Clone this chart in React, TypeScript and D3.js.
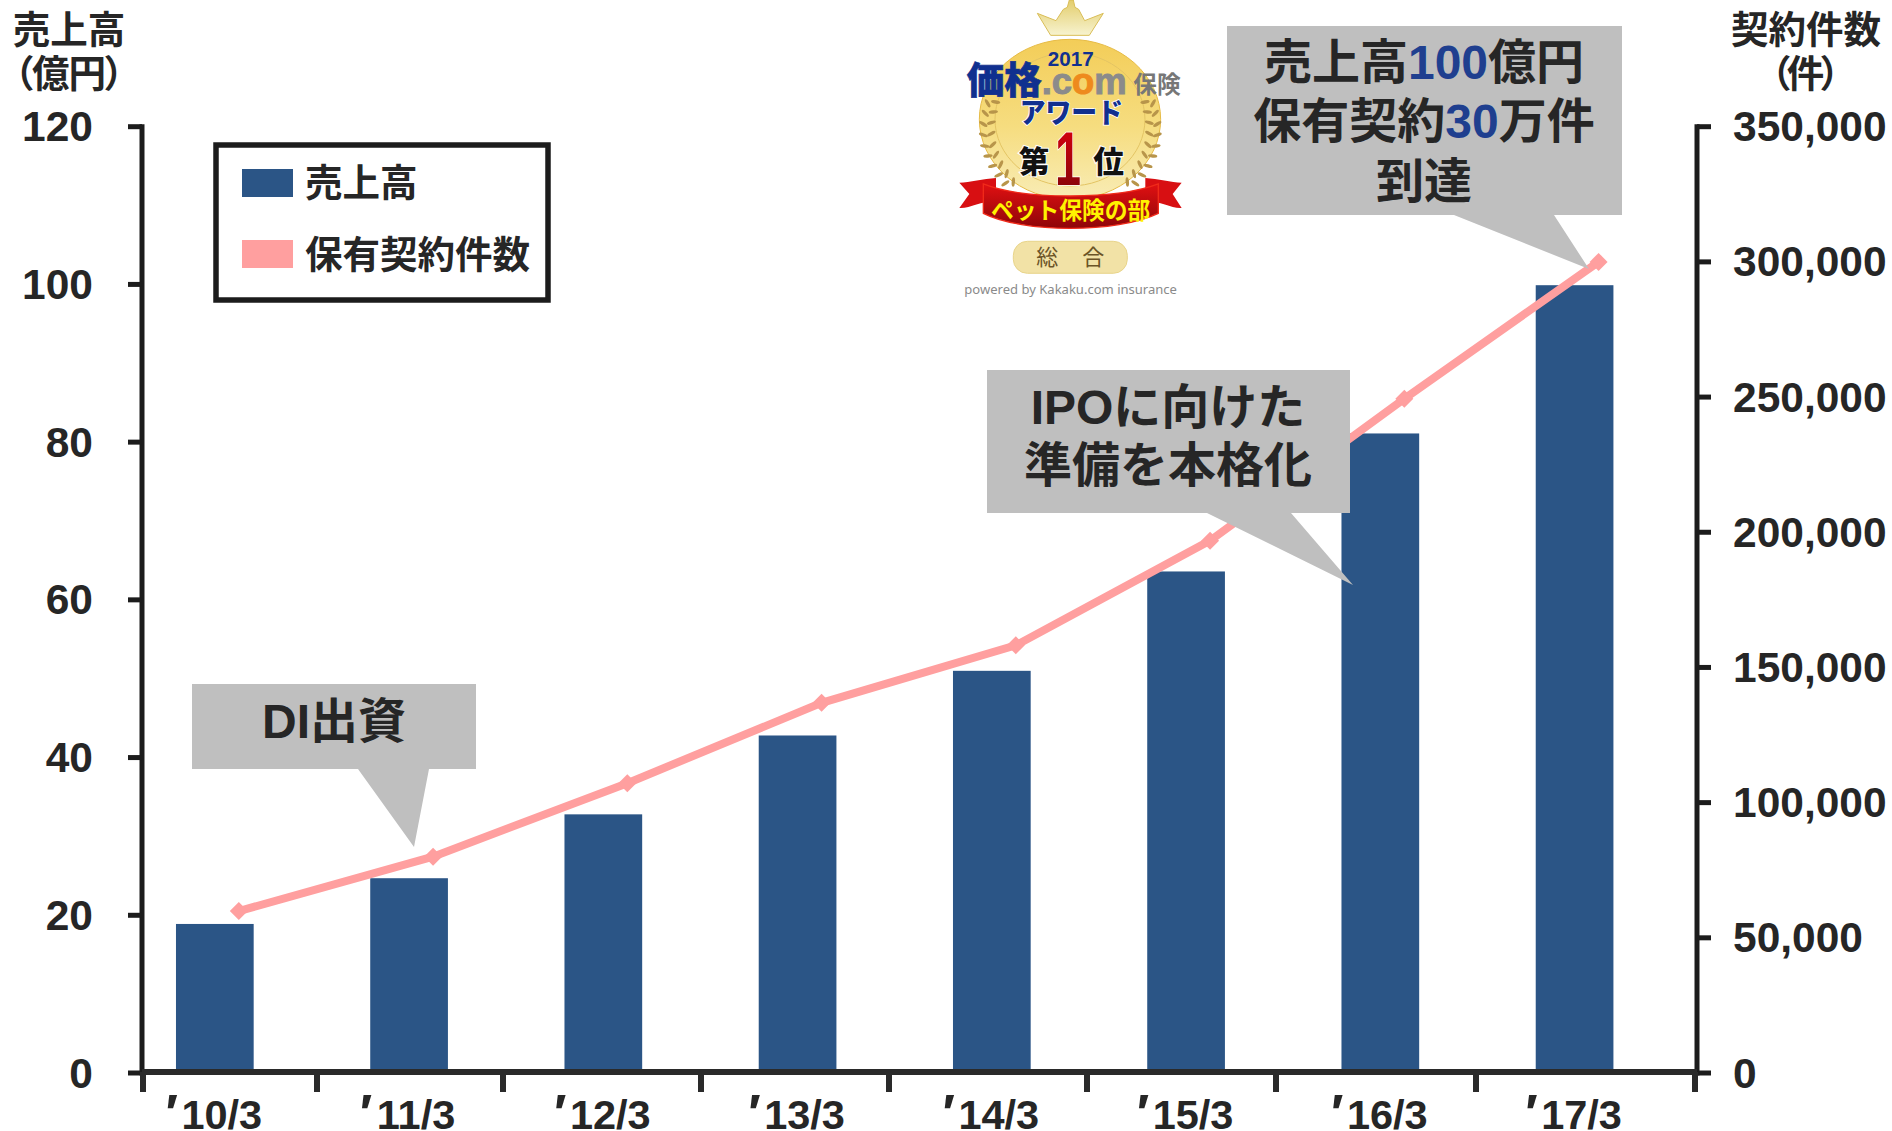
import React from "react";
import * as d3 from "d3";

const categories = ["10/3", "11/3", "12/3", "13/3", "14/3", "15/3", "16/3", "17/3"];
const revenue = [18.9, 24.7, 32.8, 42.8, 51.0, 63.6, 81.1, 99.9];
const contracts = [59900, 80000, 107200, 136900, 158200, 196900, 249400, 300000];
const leftTicks = [0, 20, 40, 60, 80, 100, 120];
const rightTicks = [0, 50000, 100000, 150000, 200000, 250000, 300000, 350000];

const FONT = "'Liberation Sans','Noto Sans CJK JP',sans-serif";
const INK = "#262626";
const AXIS = "#1c1c1c";
const BAR = "#2b5586";
const LINE = "#ff9f9f";
const GREY = "#bfbfbf";
const BLUE = "#1f3f8f";

const W = 1892, H = 1131;
const top = 126.7, base = 1073;
const axisL = 142, axisR = 1697;
const y1 = d3.scaleLinear().domain([0, 120]).range([base, top]);
const y2 = d3.scaleLinear().domain([0, 350000]).range([base, top]);
const xBand = d3.scaleBand<string>().domain(categories).range([117.7, 1671.7]).paddingInner(0.6).paddingOuter(0.3);
const lineOffset = 24;
const xMid = (c: string) => (xBand(c) as number) + xBand.bandwidth() / 2;
// the source chart's category separators are unevenly spaced
const separatorPx = [143, 317, 503, 701, 889, 1087, 1276, 1476, 1695];

const line = d3.line<number>()
  .x((_, i) => xMid(categories[i]) + lineOffset)
  .y((d) => y2(d));

function Callout({ x0, y0, x1, y1: yb, tip }: { x0: number; y0: number; x1: number; y1: number; tip: number[][] }) {
  const pts = [[x0, y0], [x1, y0], [x1, yb], ...tip, [x0, yb]].map((p) => p.join(",")).join(" ");
  return <polygon points={pts} fill={GREY} />;
}

function Laurel({ side }: { side: number }) {
  const leaves = [
    [185, 310, 40], [178, 340, 25], [172, 372, 12], [172, 405, 0], [176, 438, -12],
    [186, 468, -25], [200, 498, -35], [218, 525, -45], [238, 550, -55],
  ];
  return (
    <g transform={side < 0 ? "translate(842,0) scale(-1,1)" : undefined}>
      {leaves.map(([x, y, r], i) => (
        <g key={i}>
          <ellipse cx={x - 12} cy={y} rx={14} ry={5} fill="#b8954a" transform={`rotate(${r + 20} ${x - 12} ${y})`} />
          <ellipse cx={x + 12} cy={y - 4} rx={14} ry={5} fill="#b8954a" transform={`rotate(${r - 30} ${x + 12} ${y - 4})`} />
        </g>
      ))}
    </g>
  );
}

function Award() {
  return (
    <g transform="translate(930,0) scale(0.3333)" fontFamily={FONT}>
      <defs>
        <linearGradient id="gold" x1="0" y1="0" x2="0" y2="1">
          <stop offset="0" stopColor="#f3cd58" />
          <stop offset="0.55" stopColor="#f6dd80" />
          <stop offset="1" stopColor="#f8ecb5" />
        </linearGradient>
        <linearGradient id="crown" x1="0" y1="0" x2="0" y2="1">
          <stop offset="0" stopColor="#e3cd6c" />
          <stop offset="1" stopColor="#f7f3cf" />
        </linearGradient>
        <linearGradient id="ribbon" x1="0" y1="0" x2="0" y2="1">
          <stop offset="0" stopColor="#e01012" />
          <stop offset="1" stopColor="#8e0508" />
        </linearGradient>
        <linearGradient id="one" x1="0" y1="0" x2="0" y2="1">
          <stop offset="0" stopColor="#e3000f" />
          <stop offset="1" stopColor="#7a0408" />
        </linearGradient>
      </defs>
      <ellipse cx={420} cy={358} rx={272} ry={240} fill="url(#gold)" stroke="#e6bb45" strokeWidth={3} />
      <ellipse cx={420} cy={358} rx={225} ry={200} fill="none" stroke="#e3c463" strokeWidth={3} />
      <path d="M322,40 L378,62 L400,28 L412,22 L418,0 L430,0 L435,22 L446,28 L464,62 L520,40 L478,106 L362,106 Z"
        fill="url(#crown)" stroke="#d9bd56" strokeWidth={3} />
      <Laurel side={1} />
      <Laurel side={-1} />
      <text x={422} y={198} textAnchor="middle" fontSize={62} fontWeight={700} fill="#12308f">2017</text>
      <text x={110} y={282} fontSize={112} fontWeight={900} fill="#10308f" stroke="#10308f" strokeWidth={2} textLength={225} lengthAdjust="spacingAndGlyphs">価格</text>
      <text x={335} y={282} fontSize={112} fontWeight={700} fill="#8b8b8b" stroke="#8b8b8b" strokeWidth={3} textLength={255} lengthAdjust="spacingAndGlyphs">.c<tspan fill="#ee8a1d" stroke="#ee8a1d">o</tspan>m</text>
      <text x={610} y={280} fontSize={70} fontWeight={700} fill="#777" textLength={142} lengthAdjust="spacingAndGlyphs">保険</text>
      <text x={424} y={368} textAnchor="middle" fontSize={84} fontWeight={900} fill="#12308f" stroke="#fff" strokeWidth={5} paintOrder="stroke" textLength={310} lengthAdjust="spacingAndGlyphs">アワード</text>
      <text x={312} y={520} textAnchor="middle" fontSize={92} fontWeight={900} fill="#111" stroke="#fff" strokeWidth={6} paintOrder="stroke">第</text>
      <text x={536} y={520} textAnchor="middle" fontSize={92} fontWeight={900} fill="#111" stroke="#fff" strokeWidth={6} paintOrder="stroke">位</text>
      <text x={375} y={555} fontSize={228} fontWeight={700} fill="url(#one)" stroke="#fff" strokeWidth={5} paintOrder="stroke" textLength={78} lengthAdjust="spacingAndGlyphs">1</text>
      <path d="M198,534 C160,536 120,548 88,548 L118,582 L88,624 C120,626 150,604 198,604 Z" fill="#d80f12" />
      <path d="M646,534 C684,536 724,548 755,548 L728,582 L755,624 C724,626 694,604 646,604 Z" fill="#d80f12" />
      <path d="M160,552 C280,600 560,600 685,552 L685,640 C560,700 280,700 160,640 Z" fill="url(#ribbon)" stroke="#f02a1a" strokeWidth={4} />
      <text x={422} y={656} textAnchor="middle" fontSize={70} fontWeight={700} fill="#fff200" textLength={478} lengthAdjust="spacingAndGlyphs">ペット保険の部</text>
      <rect x={250} y={724} width={342} height={96} rx={42} fill="#f2e2a6" stroke="#e8d48a" strokeWidth={3} />
      <text x={352} y={796} textAnchor="middle" fontSize={66} fontWeight={400} fill="#6b5426">総</text>
      <text x={490} y={796} textAnchor="middle" fontSize={66} fontWeight={400} fill="#6b5426">合</text>
      <text x={422} y={882} textAnchor="middle" fontSize={38} fontWeight={400} fill="#8a8a8a" textLength={638} lengthAdjust="spacingAndGlyphs" fontFamily="'Noto Sans',sans-serif">powered by Kakaku.com insurance</text>
    </g>
  );
}

const palt = { fontFeatureSettings: "'palt'" } as React.CSSProperties;

export default function App() {
  return (
    <svg width={W} height={H} viewBox={`0 0 ${W} ${H}`}
      style={{ position: "absolute", left: 0, top: 0, background: "#fff" }} fontFamily={FONT} fontWeight={700} fill={INK}>
      <Award />

      {/* axis titles */}
      <text x={69} y={43} fontSize={37.5} textAnchor="middle">売上高</text>
      <text x={14} y={87} fontSize={37.5} style={palt} textLength={110} lengthAdjust="spacing">（億円）</text>
      <text x={1806} y={43} fontSize={37.5} textAnchor="middle">契約件数</text>
      <text x={1771} y={87} fontSize={37.5} style={palt} textLength={69} lengthAdjust="spacing">（件）</text>

      {/* bars */}
      {categories.map((c, i) => (
        <rect key={c} x={xBand(c)} y={y1(revenue[i])} width={xBand.bandwidth()} height={y1(0) - y1(revenue[i])} fill={BAR} />
      ))}

      {/* axes */}
      <g stroke={AXIS} strokeWidth={5} fill="none">
        <line x1={axisL} x2={axisL} y1={top - 2.5} y2={base + 2.5} />
        <line x1={axisR} x2={axisR} y1={top - 2.5} y2={base + 2.5} />
        <line x1={axisL} x2={axisR} y1={base - 1} y2={base - 1} stroke="#2a2a2a" strokeWidth={6} />
        {leftTicks.map((t) => <line key={t} x1={axisL - 14} x2={axisL} y1={y1(t)} y2={y1(t)} />)}
        {rightTicks.map((t) => <line key={t} x1={axisR} x2={axisR + 14} y1={y2(t)} y2={y2(t)} />)}
        {separatorPx.map((x) => <line key={x} x1={x} x2={x} y1={base - 1} y2={base + 19} stroke="#2a2a2a" strokeWidth={6} />)}
      </g>
      {leftTicks.map((t) => (
        <text key={t} x={93} y={y1(t) + 14.5} fontSize={42.5} textAnchor="end">{t}</text>
      ))}
      {rightTicks.map((t) => (
        <text key={t} x={1733} y={y2(t) + 14.5} fontSize={42.5}>{d3.format(",")(t)}</text>
      ))}
      {categories.map((c) => (
        <text key={c} x={xMid(c) + 7} y={1129} fontSize={41.5} textAnchor="middle">{c}</text>
      ))}
      {categories.map((c) => (
        <text key={c} x={xMid(c) - 52} y={1131} fontSize={52} fontStyle="italic">′</text>
      ))}

      {/* contracts line */}
      <path d={line(contracts) as string} fill="none" stroke={LINE} strokeWidth={8} />
      {contracts.map((v, i) => {
        const cx = xMid(categories[i]) + lineOffset, cy = y2(v);
        return <path key={i} d={`M${cx - 9},${cy} L${cx},${cy - 9} L${cx + 9},${cy} L${cx},${cy + 9} Z`} fill={LINE} />;
      })}

      {/* legend */}
      <rect x={216} y={145} width={332} height={155} fill="#fff" stroke={AXIS} strokeWidth={5.5} />
      <rect x={242} y={169} width={51} height={28} fill={BAR} />
      <rect x={242} y={240} width={51} height={28} fill={LINE} />
      <text x={305} y={196} fontSize={37.5}>売上高</text>
      <text x={305} y={268} fontSize={37.5}>保有契約件数</text>

      {/* callouts */}
      <Callout x0={192} y0={684} x1={476} y1={769} tip={[[429, 769], [414, 847], [358, 769]]} />
      <text x={334} y={738} fontSize={48} textAnchor="middle">DI出資</text>

      <Callout x0={987} y0={370} x1={1350} y1={513} tip={[[1291, 513], [1353, 585], [1207, 513]]} />
      <text x={1168} y={424} fontSize={48} textAnchor="middle">IPOに向けた</text>
      <text x={1168} y={482} fontSize={48} textAnchor="middle">準備を本格化</text>

      <Callout x0={1227} y0={26} x1={1622} y1={215} tip={[[1554, 215], [1589, 269], [1454, 215]]} />
      <text x={1424} y={79} fontSize={48} textAnchor="middle">売上高<tspan fill={BLUE}>100</tspan>億円</text>
      <text x={1424} y={138} fontSize={48} textAnchor="middle">保有契約<tspan fill={BLUE}>30</tspan>万件</text>
      <text x={1424} y={198} fontSize={48} textAnchor="middle">到達</text>
    </svg>
  );
}
